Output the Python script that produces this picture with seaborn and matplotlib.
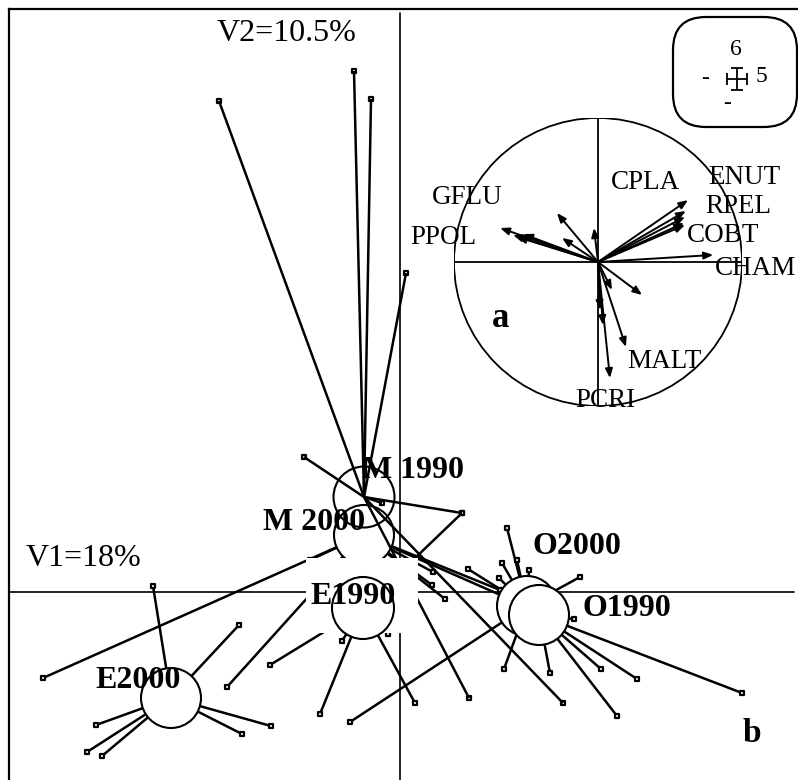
import pandas as pd
import matplotlib
matplotlib.use("Agg")
import matplotlib.pyplot as plt
import seaborn as sns
from matplotlib.patches import Circle, Rectangle, FancyBboxPatch

sns.set_theme(style="white")
plt.rcParams['font.family'] = ['Liberation Serif', 'DejaVu Serif']
plt.rcParams['text.color'] = 'black'

# group centroids on the factorial plane (V1, V2)
groups = ["M1990", "M2000", "E1990", "E2000", "O2000", "O1990"]
group_labels = ["M 1990", "M 2000", "E1990", "E2000", "O2000", "O1990"]
center_x = [-0.36, -0.36, -0.37, -2.29, 1.27, 1.39]
center_y = [0.95, 0.57, -0.16, -1.06, -0.14, -0.23]

# site scores for each group (V1, V2)
m1990_x = [-1.81, -0.46, -0.29, 0.06, -0.96, 0.62, 1.63, 0.69, -0.18]
m1990_y = [4.91, 5.21, 4.93, 3.19, 1.35, 0.79, -1.11, -1.06, 0.89]
m2000_x = [-3.57, -1.73, -0.90, -0.72, -0.48, 0.32, 0.45, 0.33, 1.05, 1.00]
m2000_y = [-0.86, -0.95, 0.32, 0.20, 0.25, 0.07, -0.07, 0.20, -0.05, 0.02]
e1990_x = [-1.30, -0.80, 0.15, -0.58, -0.12, 0.62]
e1990_y = [-0.73, -1.22, -1.11, -0.49, -0.42, 0.79]
e2000_x = [-2.47, -1.61, -3.04, -3.13, -2.98, -1.58, -1.29]
e2000_y = [0.06, -0.33, -1.33, -1.60, -1.64, -1.42, -1.34]
o2000_x = [1.07, 1.02, 0.99, 1.17, 1.29, 0.68, 1.80, -0.50, 1.04]
o2000_y = [0.64, 0.29, 0.14, 0.32, 0.22, 0.23, 0.15, -1.30, -0.77]
o1990_x = [1.74, 1.50, 2.01, 2.37, 2.17, 3.42]
o1990_y = [-0.27, -0.81, -0.77, -0.87, -1.24, -1.01]

site_x = [m1990_x, m2000_x, e1990_x, e2000_x, o2000_x, o1990_x]
site_y = [m1990_y, m2000_y, e1990_y, e2000_y, o2000_y, o1990_y]

# correlation circle (variables on V1, V2)
var_x = [0.625, 0.61, 0.604, 0.597, 0.604, 0.80, -0.68, -0.59, -0.52, -0.5625,
         -0.285, -0.25, -0.028, 0.306, 0.097, 0.035, 0.014, 0.194, 0.083]
var_y = [0.43, 0.354, 0.3125, 0.271, 0.257, 0.049, 0.236, 0.1875, 0.194, 0.174,
         0.34, 0.167, 0.236, -0.229, -0.194, -0.438, -0.333, -0.59, -0.806]
var_names = ["ENUT", "RPEL", "COBT", "CHAM", "CPLA", "GFLU", "PPOL", "MALT", "PCRI"]
var_label_x = [0.764, 0.743, 0.618, 0.8125, 0.09, -1.153, -1.306, 0.201, -0.16]
var_label_y = [0.59, 0.382, 0.1875, -0.042, 0.549, 0.451, 0.167, -0.6875, -0.965]

rows = []
for g, cx, cy, xs, ys in zip(groups, center_x, center_y, site_x, site_y):
    for x, y in zip(xs, ys):
        rows.append({"group": g, "cx": cx, "cy": cy, "x": x, "y": y})
sites = pd.DataFrame(rows)

fig = plt.figure(figsize=(7.98, 7.80), dpi=100)
ax = fig.add_axes([9 / 798, 0, 789 / 798, 771 / 780])
ax.set_xlim(-3.91, 3.98)
ax.set_ylim(-1.88, 5.83)
ax.set_xticks([])
ax.set_yticks([])
for side in ["right", "bottom"]:
    ax.spines[side].set_visible(False)
for side in ["left", "top"]:
    ax.spines[side].set_color("black")
    ax.spines[side].set_linewidth(1.6)

ax.axhline(0, xmin=0, xmax=0.995, color="black", lw=1.2, zorder=1)
ax.axvline(0, ymin=0, ymax=0.995, color="black", lw=1.2, zorder=1)

# star lines: other groups below the white circles, M1990 above
for _, r in sites.iterrows():
    z = 3.5 if r["group"] == "M1990" else 2
    ax.plot([r["cx"], r["x"]], [r["cy"], r["y"]], color="black", lw=1.8,
            zorder=z, solid_capstyle="butt")
sns.scatterplot(data=sites, x="x", y="y", marker="s", s=11, color="white",
                edgecolor="black", linewidth=1.6, zorder=2.5, ax=ax, legend=False)

for g, cx, cy in zip(groups, center_x, center_y):
    if g == "M1990":
        ax.add_patch(Circle((cx, cy), 0.305, fill=False, ec="black", lw=1.5, zorder=3.6))
    elif g == "E1990":
        ax.add_patch(Rectangle((-0.94, -0.41), 1.12, 0.75, fc="white", ec="none", zorder=4))
        ax.add_patch(Circle((cx, cy), 0.31, fc="white", ec="black", lw=1.5, zorder=4.5))
    else:
        ax.add_patch(Circle((cx, cy), 0.30, fc="white", ec="black", lw=1.5, zorder=3))

label_x = [-0.38, -1.37, -0.90, -3.05, 1.32, 1.83]
label_y = [1.21, 0.70, -0.05, -0.88, 0.46, -0.17]
for t, lx, ly in zip(group_labels, label_x, label_y):
    ax.text(lx, ly, t, fontsize=23, fontweight="bold", ha="left", va="center", zorder=6)

ax.text(-1.83, 5.58, "V2=10.5%", fontsize=23, ha="left", va="center")
ax.text(-3.74, 0.34, "V1=18%", fontsize=23, ha="left", va="center")
ax.text(3.52, -1.41, "b", fontsize=24, fontweight="bold", ha="center", va="center")

# scale box in the corner
ax.add_patch(FancyBboxPatch((2.98, 4.90), 0.74, 0.60,
                            boxstyle="round,pad=0.25,rounding_size=0.33",
                            fc="white", ec="black", lw=1.6, zorder=5))
ax.errorbar([3.37], [5.13], xerr=[[0.10], [0.10]], yerr=[[0.11], [0.11]],
            fmt="none", ecolor="black", elinewidth=1.3, capsize=4, capthick=1.3, zorder=6)
ax.text(3.36, 5.42, "6", fontsize=17, ha="center", va="center", zorder=6)
ax.text(3.61, 5.15, "5", fontsize=17, ha="center", va="center", zorder=6)
ax.text(3.05, 5.13, "-", fontsize=17, ha="center", va="center", zorder=6)
ax.text(3.27, 4.88, "-", fontsize=17, ha="center", va="center", zorder=6)

# inset: correlation circle
axi = fig.add_axes([(598 - 144) / 798, (780 - 262 - 144) / 780, 288 / 798, 288 / 780])
axi.set_xlim(-1, 1)
axi.set_ylim(-1, 1)
axi.axis("off")
axi.patch.set_alpha(0)
axi.add_patch(Circle((0, 0), 1, fill=False, ec="black", lw=1.3))
axi.plot([-1, 1], [0, 0], color="black", lw=1.3)
axi.plot([0, 0], [-1, 1], color="black", lw=1.3)
for vx, vy in zip(var_x, var_y):
    axi.annotate("", xy=(vx, vy), xytext=(0, 0),
                 arrowprops=dict(arrowstyle="-|>,head_length=0.45,head_width=0.18",
                                 color="black", lw=1.4, shrinkA=0, shrinkB=0))
for name, lx, ly in zip(var_names, var_label_x, var_label_y):
    axi.text(lx, ly, name, fontsize=19.5, ha="left", va="center")
axi.text(-0.68, -0.39, "a", fontsize=25, fontweight="bold", ha="center", va="center")

fig.savefig("out.png", dpi=100)
